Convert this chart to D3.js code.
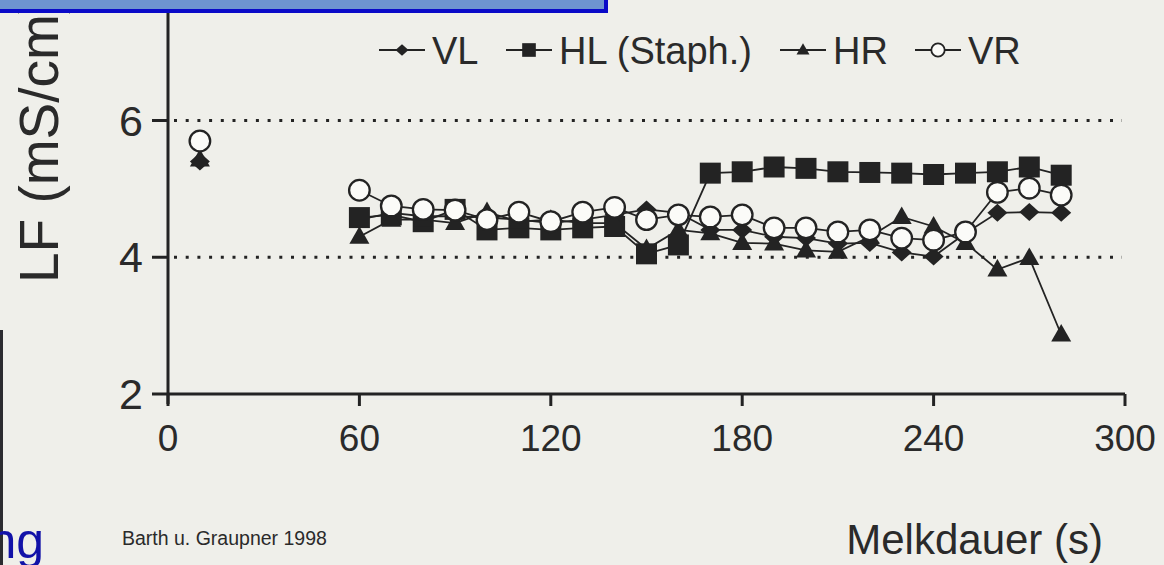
<!DOCTYPE html>
<html>
<head>
<meta charset="utf-8">
<script src="https://cdn.jsdelivr.net/npm/d3@7"></script>
<style>
  html, body { margin: 0; padding: 0; background: #efefea; }
  svg { display: block; }
  text { font-family: "Liberation Sans", Arial, sans-serif; fill: #2a2a2a; }
</style>
</head>
<body>
<svg width="1164" height="565"></svg>
<script>
// Melkdauer (s)
const times = [60, 70, 80, 90, 100, 110, 120, 130, 140, 150, 160, 170, 180, 190, 200, 210, 220, 230, 240, 250, 260, 270, 280]

// LF (mS/cm) per quarter
const vl = [4.55, 4.65, 4.6, 4.6, 4.58, 4.55, 4.5, 4.55, 4.62, 4.7, 4.65, 4.4, 4.4, 4.3, 4.28, 4.2, 4.21, 4.07, 4.01, 4.35, 4.65, 4.66, 4.65]
const hl = [4.58, 4.62, 4.52, 4.7, 4.4, 4.43, 4.4, 4.43, 4.45, 4.05, 4.18, 5.23, 5.25, 5.32, 5.3, 5.25, 5.24, 5.23, 5.21, 5.23, 5.25, 5.32, 5.2]
const hr = [4.3, 4.55, 4.55, 4.5, 4.66, 4.52, 4.55, 4.5, 4.5, 4.12, 4.4, 4.35, 4.21, 4.2, 4.1, 4.08, 4.3, 4.59, 4.45, 4.21, 3.82, 3.99, 2.87]
const vr = [4.98, 4.75, 4.7, 4.69, 4.55, 4.66, 4.52, 4.66, 4.73, 4.55, 4.62, 4.59, 4.62, 4.43, 4.43, 4.37, 4.4, 4.28, 4.25, 4.37, 4.95, 5.01, 4.91]

// single early readings at 10 s
const early = [
  { key: "VL", t: 10, v: 5.4 },
  { key: "HR", t: 10, v: 5.43 },
  { key: "VR", t: 10, v: 5.7 }
]

const seriesNames = ["VL", "HL (Staph.)", "HR", "VR"]
const xTicks = [0, 60, 120, 180, 240, 300]
const yTicks = [2, 4, 6]
const refLines = [4, 6]

const svg = d3.select("svg")
const x = d3.scaleLinear().domain([0, 300]).range([168, 1125])
const y = d3.scaleLinear().domain([2, 6]).range([394, 120.5])
const ink = "#232323"

// marker shapes
const shapes = {
  "VL": s => `M0,${-9 * s}L${10 * s},0L0,${9 * s}L${-10 * s},0Z`,
  "HL (Staph.)": s => `M${-10.5 * s},${-10.5 * s}H${10.5 * s}V${10.5 * s}H${-10.5 * s}Z`,
  "HR": s => `M0,${-10.5 * s}L${10 * s},${7 * s}L${-10 * s},${7 * s}Z`,
  "VR": s => d3.arc()({ innerRadius: 0, outerRadius: 10.3 * s, startAngle: 0, endAngle: 2 * Math.PI })
}
const isOpen = k => k === "VR"

const series = [
  { key: "VL", values: vl },
  { key: "HL (Staph.)", values: hl },
  { key: "HR", values: hr },
  { key: "VR", values: vr }
]

// reference dotted lines
svg.selectAll(".ref")
  .data(refLines)
  .enter()
  .append("line")
  .attr("x1", 174)
  .attr("x2", 1122)
  .attr("y1", d => y(d))
  .attr("y2", d => y(d))
  .style("stroke", ink)
  .style("stroke-width", 3)
  .style("stroke-dasharray", "3,8.7")

// axes
svg.append("line")
  .attr("x1", x(0)).attr("x2", x(0))
  .attr("y1", 0).attr("y2", y(2) + 10)
  .style("stroke", ink).style("stroke-width", 3)

svg.append("line")
  .attr("x1", x(0)).attr("x2", x(300))
  .attr("y1", y(2)).attr("y2", y(2))
  .style("stroke", ink).style("stroke-width", 3)

svg.selectAll(".ytick")
  .data(yTicks)
  .enter()
  .append("line")
  .attr("x1", x(0) - 16).attr("x2", x(0))
  .attr("y1", d => y(d)).attr("y2", d => y(d))
  .style("stroke", ink).style("stroke-width", 3)

svg.selectAll(".ylab")
  .data(yTicks)
  .enter()
  .append("text")
  .attr("x", 143)
  .attr("y", d => y(d) + 15)
  .attr("text-anchor", "end")
  .style("font-size", "43px")
  .text(d => d)

svg.selectAll(".xtick")
  .data(xTicks)
  .enter()
  .append("line")
  .attr("x1", d => x(d)).attr("x2", d => x(d))
  .attr("y1", y(2)).attr("y2", y(2) + 12)
  .style("stroke", ink).style("stroke-width", 3)

svg.selectAll(".xlab")
  .data(xTicks)
  .enter()
  .append("text")
  .attr("x", d => x(d))
  .attr("y", 451)
  .attr("text-anchor", "middle")
  .style("font-size", "37px")
  .text(d => d)

svg.append("text")
  .attr("transform", "translate(58,283) rotate(-90)")
  .style("font-size", "55px")
  .text("LF (mS/cm)")

svg.append("text")
  .attr("x", 1103)
  .attr("y", 554)
  .attr("text-anchor", "end")
  .style("font-size", "42px")
  .text("Melkdauer (s)")

svg.append("text")
  .attr("x", 122)
  .attr("y", 545)
  .style("font-size", "19.5px")
  .text("Barth u. Graupner 1998")

// series lines and markers
const line = d3.line()
  .x(d => x(d.t))
  .y(d => y(d.v))

series.forEach(s => {
  const pts = times.map((t, i) => ({ t: t, v: s.values[i] }))
  svg.append("path")
    .datum(pts)
    .attr("d", line)
    .style("fill", "none")
    .style("stroke", ink)
    .style("stroke-width", 1.8)
})

series.forEach(s => {
  const pts = times.map((t, i) => ({ t: t, v: s.values[i] }))
    .concat(early.filter(e => e.key === s.key))
  svg.selectAll(null)
    .data(pts)
    .enter()
    .append("path")
    .attr("transform", d => `translate(${x(d.t)},${y(d.v)})`)
    .attr("d", shapes[s.key](1))
    .style("fill", isOpen(s.key) ? "#fbfbf8" : ink)
    .style("stroke", ink)
    .style("stroke-width", isOpen(s.key) ? 2.3 : 0)
})

// legend
const legendX = [402, 529, 803, 938]
const legend = svg.selectAll(".legend")
  .data(seriesNames)
  .enter()
  .append("g")
  .attr("transform", (d, i) => `translate(${legendX[i]},50)`)

legend.append("line")
  .attr("x1", -23).attr("x2", 23)
  .style("stroke", ink).style("stroke-width", 2)

legend.append("path")
  .attr("d", d => shapes[d](0.65))
  .style("fill", d => isOpen(d) ? "#fbfbf8" : ink)
  .style("stroke", ink)
  .style("stroke-width", d => isOpen(d) ? 1.8 : 0)

legend.append("text")
  .attr("x", 30)
  .attr("y", 14)
  .style("font-size", "38px")
  .text(d => d)

// slide frame remnants
svg.append("rect")
  .attr("x", -4).attr("y", -4)
  .attr("width", 610).attr("height", 15)
  .style("fill", "#6e94d0")
  .style("stroke", "#0a0ac8")
  .style("stroke-width", 4)

svg.append("rect")
  .attr("x", 0).attr("y", 330)
  .attr("width", 3).attr("height", 235)
  .style("fill", "#2b2b30")

svg.append("text")
  .attr("x", 44)
  .attr("y", 558)
  .attr("text-anchor", "end")
  .style("font-size", "50px")
  .style("fill", "#1212a8")
  .text("ng")
</script>
</body>
</html>
